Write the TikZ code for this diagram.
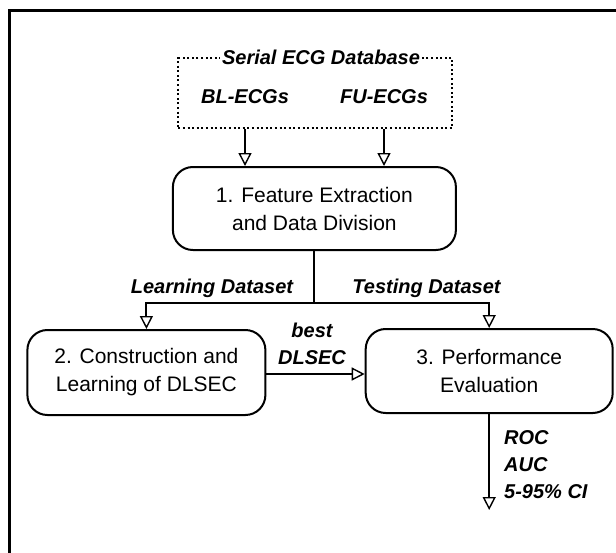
\documentclass[tikz,border=0pt]{standalone}
\usepackage{fontspec}
\setmainfont{Liberation Sans}
\usetikzlibrary{arrows.meta}
\begin{document}
\begin{tikzpicture}[x=1pt,y=-1pt,
  proc/.style={draw, line width=2pt, rounded corners=20pt, align=center,
    font=\fontsize{21}{28}\selectfont, inner sep=0pt},
  lab/.style={font=\fontsize{20}{27}\selectfont\bfseries\itshape, inner sep=1pt},
  arr/.style={line width=2pt, -{Triangle[open, length=13pt, width=13pt, line width=1.4pt]}},
  frame/.style={line width=3pt}]
\useasboundingbox (0,0) rectangle (616,552);
\draw[frame] (9.5,560) -- (9.5,10) -- (620,10);

% database
\node[draw, line width=2pt, dash pattern=on 2pt off 2.6pt, minimum width=274pt, minimum height=70pt, inner sep=0pt] (db) at (315.3,93) {};
\node[lab, fill=white, inner sep=2pt] (dbt) at (321,57) {Serial ECG Database};
\node[lab] (bl) at (245,97) {BL-ECGs};
\node[lab] (fu) at (384,97) {FU-ECGs};

% processes
\node[proc, minimum width=283pt, minimum height=83pt] (b1) at (314.4,208.5) {1. Feature Extraction\\and Data Division};
\node[proc, minimum width=238pt, minimum height=85pt] (b2) at (146.4,372.5) {2. Construction and\\Learning of DLSEC};
\node[proc, minimum width=247pt, minimum height=84pt] (b3) at (489.2,371) {3. Performance\\Evaluation};

\draw[arr] (db.south -| bl) -- (b1.north -| bl);
\draw[arr] (db.south -| fu) -- (b1.north -| fu);

\coordinate (sp) at (314.4,303);
\draw[line width=2pt] (b1.south) -- (sp);
\draw[arr] (sp) -| (b2.north);
\draw[arr] (sp) -| (b3.north);
\node[lab] (ld) at (212,288) {Learning Dataset};
\node[lab] (td) at (426.5,288) {Testing Dataset};

\draw[arr] (b2.east |- 0,374) -- (b3.west |- 0,374);
\node[lab, align=center] (best) at (312,343.5) {best\\DLSEC};

\coordinate (out) at (489.2,510);
\draw[arr] (b3.south) -- (out);
\node[lab, align=left, anchor=west] (met) at (503,465) {ROC\\AUC\\5-95\% CI};
\end{tikzpicture}
\end{document}
